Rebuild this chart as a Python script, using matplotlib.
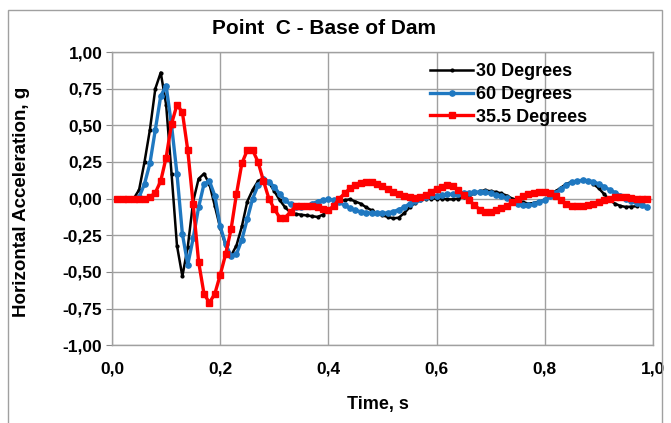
import numpy as np
import matplotlib
matplotlib.use("Agg")
import matplotlib.pyplot as plt
from matplotlib.patches import Rectangle

# time axis, 0.01 s steps
time = np.arange(1, 100) / 100.0

# 30 degrees (ends at 0.97 s)
acc_30 = [0.0, 0.0, 0.0, 0.0, 0.06, 0.25, 0.47, 0.75, 0.86, 0.64,
          0.17, -0.32, -0.53, -0.33, -0.02, 0.135, 0.17, 0.10, -0.05, -0.20,
          -0.32, -0.39, -0.32, -0.19, -0.02, 0.06, 0.12, 0.14, 0.11, 0.05,
          -0.01, -0.06, -0.095, -0.105, -0.11, -0.115, -0.12, -0.125, -0.11, -0.08,
          -0.05, -0.02, -0.01, -0.005, -0.02, -0.035, -0.06, -0.08, -0.10, -0.115,
          -0.125, -0.135, -0.13, -0.10, -0.06, -0.03, -0.01, 0.0, 0.0, 0.0,
          0.0, -0.005, -0.005, 0.0, 0.01, 0.02, 0.035, 0.05, 0.057, 0.05,
          0.045, 0.035, 0.02, 0.0, -0.01, -0.025, -0.034, -0.03, -0.02, -0.01,
          0.02, 0.05, 0.075, 0.10, 0.115, 0.122, 0.125, 0.12, 0.10, 0.07,
          0.03, -0.01, -0.035, -0.05, -0.057, -0.055, -0.052]

# 60 degrees
acc_60 = [0.0, 0.0, 0.0, 0.0, 0.01, 0.10, 0.24, 0.47, 0.70, 0.77,
          0.50, 0.17, -0.24, -0.45, -0.27, -0.06, 0.10, 0.12, 0.02, -0.19,
          -0.31, -0.39, -0.38, -0.28, -0.14, 0.0, 0.09, 0.135, 0.115, 0.08,
          0.03, -0.01, -0.04, -0.055, -0.06, -0.05, -0.035, -0.02, -0.01, -0.005,
          -0.01, -0.025, -0.045, -0.065, -0.08, -0.09, -0.095, -0.10, -0.10, -0.10,
          -0.097, -0.09, -0.075, -0.06, -0.035, -0.015, 0.0, 0.01, 0.015, 0.02,
          0.025, 0.028, 0.03, 0.034, 0.038, 0.04, 0.043, 0.045, 0.045, 0.035,
          0.025, 0.015, 0.005, -0.02, -0.037, -0.045, -0.045, -0.04, -0.025, -0.01,
          0.015, 0.04, 0.065, 0.09, 0.11, 0.12, 0.125, 0.122, 0.115, 0.10,
          0.08, 0.06, 0.04, 0.02, 0.0, -0.015, -0.03, -0.045, -0.057]

# 35.5 degrees
acc_355 = [0.0, 0.0, 0.0, 0.0, 0.0, 0.0, 0.01, 0.04, 0.12, 0.28,
           0.51, 0.64, 0.59, 0.33, -0.04, -0.43, -0.65, -0.71, -0.65, -0.52,
           -0.38, -0.21, 0.03, 0.24, 0.33, 0.33, 0.25, 0.12, 0.0, -0.07,
           -0.13, -0.13, -0.09, -0.05, -0.048, -0.048, -0.048, -0.055, -0.07, -0.08,
           -0.05, 0.0, 0.035, 0.07, 0.095, 0.105, 0.113, 0.11, 0.10, 0.085,
           0.065, 0.045, 0.03, 0.015, 0.008, 0.005, 0.01, 0.025, 0.045, 0.065,
           0.08, 0.09, 0.085, 0.06, 0.025, -0.01, -0.045, -0.075, -0.09, -0.09,
           -0.08, -0.065, -0.05, -0.025, -0.005, 0.015, 0.03, 0.04, 0.045, 0.045,
           0.04, 0.02, -0.01, -0.035, -0.05, -0.052, -0.05, -0.045, -0.035, -0.025,
           -0.01, 0.0, 0.01, 0.01, 0.01, 0.005, 0.0, -0.005, -0.005]

labels = ["30 Degrees", "60 Degrees", "35.5 Degrees"]
x_ticks = [0.0, 0.2, 0.4, 0.6, 0.8, 1.0]
y_ticks = [1.0, 0.75, 0.5, 0.25, 0.0, -0.25, -0.5, -0.75, -1.0]

plt.rcParams['font.family'] = ['Liberation Sans', 'DejaVu Sans']
plt.rcParams['font.weight'] = 'bold'

fig = plt.figure(figsize=(6.71, 4.23), dpi=100)
ax = fig.add_axes([0.167, 0.184, 0.806, 0.693])

ax.plot(time[:len(acc_30)], acc_30, color='black', lw=1.8, marker='o', ms=2,
        label=labels[0])
ax.plot(time, acc_60, color='#1f78c1', lw=2.4, marker='o', ms=3.8,
        label=labels[1])
ax.plot(time, acc_355, color='#ff0000', lw=2.4, marker='s', ms=4.8,
        label=labels[2])

ax.set_xlim(0, 1)
ax.set_ylim(-1, 1)
ax.set_xticks(x_ticks)
ax.set_xticklabels([f"{v:.1f}".replace('.', ',') for v in x_ticks])
ax.set_yticks(y_ticks)
ax.set_yticklabels([f"{v:.2f}".replace('.', ',') for v in y_ticks])
ax.tick_params(axis='x', length=0, pad=12, labelsize=12.5)
ax.tick_params(axis='y', length=4, direction='out', color='#888888',
               labelsize=12.5, pad=3)
ax.grid(True, color='#a0a0a0', lw=1)
ax.set_axisbelow(True)
for sp in ax.spines.values():
    sp.set_color('#a0a0a0')
    sp.set_linewidth(1)

fig.text(324 / 671, 1 - 28 / 423, "Point  C - Base of Dam", fontsize=15,
         fontweight='bold', ha='center', va='center')
ax.set_xlabel("Time, s", fontsize=13, fontweight='bold')
ax.xaxis.set_label_coords(0.492, -0.172)
ax.set_ylabel("Horizontal Acceleration, g", fontsize=13.5, fontweight='bold')
ax.yaxis.set_label_coords(-0.152, 0.49)

ax.legend(loc='upper left', bbox_to_anchor=(0.588, 0.962), frameon=False,
          fontsize=13, handlelength=2.4, handletextpad=0.15, labelspacing=0.32,
          borderaxespad=0, borderpad=0)

# outer chart border
fig.patches.append(Rectangle((8 / 671, -0.05), 654 / 671, 1 - 10 / 423 + 0.05,
                             transform=fig.transFigure, fill=False,
                             edgecolor='#a0a0a0', lw=1))

fig.savefig("out.png", dpi=100)
